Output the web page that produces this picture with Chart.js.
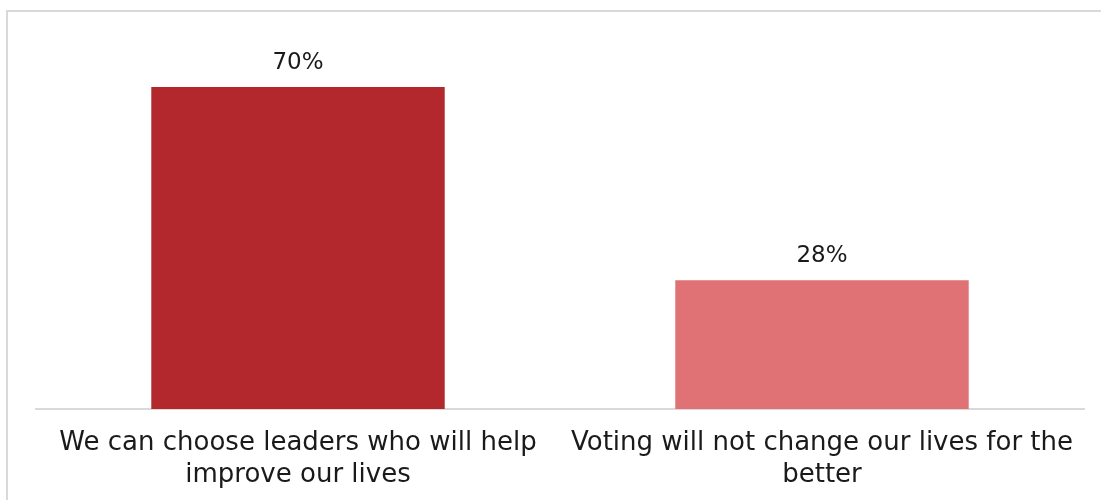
<!DOCTYPE html>
<html>
<head>
<meta charset="utf-8">
<script src="https://cdn.jsdelivr.net/npm/chart.js@4/dist/chart.umd.min.js"></script>
<style>
  html, body { margin: 0; padding: 0; width: 1101px; height: 500px; overflow: hidden; background: #fff; }
  #frame { position: absolute; left: 6px; top: 10px; width: 1095px; height: 490px; border-top: 2px solid #d9d9d9; border-left: 2px solid #d9d9d9; box-sizing: border-box; }
  #wrap { position: absolute; left: 0; top: 0; width: 1101px; height: 500px; }
</style>
</head>
<body>
<div id="frame"></div>
<div id="wrap"><canvas id="c"></canvas></div>
<script>
const categories = [
  ["We can choose leaders who will help", "improve our lives"],
  ["Voting will not change our lives for the", "better"]
];
const values = [70, 28];
const barColors = ["#B3282D", "#E07174"];
const yMin = 0;
const yMax = 80;

const FONT = "'DejaVu Sans', sans-serif";

const valueLabels = {
  id: 'valueLabels',
  afterDatasetsDraw(chart) {
    const ctx = chart.ctx;
    const meta = chart.getDatasetMeta(0);
    ctx.save();
    ctx.font = "23px " + FONT;
    ctx.fillStyle = "#1a1a1a";
    ctx.textAlign = "center";
    ctx.textBaseline = "middle";
    meta.data.forEach((bar, i) => {
      ctx.fillText(values[i] + "%", bar.x, bar.y - 24);
    });
    ctx.restore();
  }
};

new Chart(document.getElementById('c'), {
  type: 'bar',
  data: {
    labels: categories,
    datasets: [{
      data: values,
      backgroundColor: barColors,
      borderWidth: 0,
      categoryPercentage: 1.0,
      barPercentage: 0.56
    }]
  },
  options: {
    responsive: true,
    maintainAspectRatio: false,
    animation: false,
    layout: { padding: { left: 36, right: 17, top: 41, bottom: 0 } },
    plugins: { legend: { display: false }, tooltip: { enabled: false } },
    scales: {
      x: {
        grid: { display: false, drawTicks: false },
        border: { display: true, color: '#d9d9d9', width: 2 },
        ticks: {
          color: '#1a1a1a',
          font: { family: FONT, size: 26, lineHeight: 1.23 },
          padding: 18,
          maxRotation: 0,
          autoSkip: false
        },
        afterFit(scale) { scale.height = 91; }
      },
      y: {
        display: false,
        min: yMin,
        max: yMax
      }
    }
  },
  plugins: [valueLabels]
});
</script>
</body>
</html>
